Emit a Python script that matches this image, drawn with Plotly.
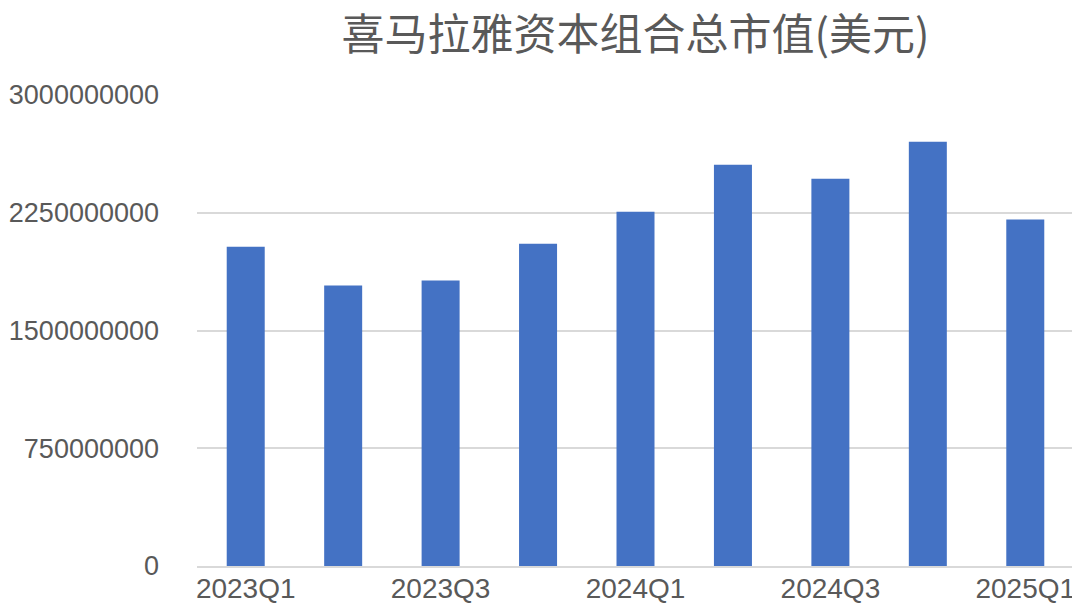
import plotly.graph_objects as go

quarters = ["2023Q1", "2023Q2", "2023Q3", "2023Q4", "2024Q1", "2024Q2", "2024Q3", "2024Q4", "2025Q1"]
market_value = [2034000000, 1786000000, 1818000000, 2053000000, 2256000000, 2555000000, 2466000000, 2703000000, 2207000000]
y_ticks = [0, 750000000, 1500000000, 2250000000, 3000000000]
title_text = "喜马拉雅资本组合总市值(美元)"

# page body has an 8px default margin, so the figure is sized to fit the 1080x609 window
fig = go.Figure(
    go.Bar(
        x=quarters,
        y=market_value,
        marker=dict(color="#4472C4", line=dict(width=0)),
        width=0.39,
    )
)

fig.update_layout(
    width=1072,
    height=601,
    margin=dict(l=189, r=6, t=87, b=43),
    paper_bgcolor="white",
    plot_bgcolor="white",
    showlegend=False,
    font=dict(family="Liberation Sans, Arial, Noto Sans CJK SC", color="#595959", size=28),
    title=dict(
        text=title_text,
        x=0.5,
        xref="paper",
        xanchor="center",
        y=1 - 27 / 601,
        yref="container",
        yanchor="middle",
        font=dict(family="Noto Sans CJK SC", size=43, color="#595959"),
    ),
)

fig.update_xaxes(
    type="category",
    tickvals=quarters[::2],
    ticktext=quarters[::2],
    showgrid=False,
    showline=True,
    linecolor="#d9d9d9",
    linewidth=2,
    ticks="",
    ticklabelstandoff=-4,
    automargin=False,
    tickfont=dict(size=28, color="#595959"),
)

fig.update_yaxes(
    range=[0, 3000000000],
    tickvals=y_ticks,
    ticktext=[str(v) for v in y_ticks],
    showgrid=True,
    gridcolor="#d9d9d9",
    gridwidth=2,
    zeroline=False,
    showline=False,
    ticks="",
    ticklabelstandoff=37,
    automargin=False,
    tickfont=dict(size=27, color="#595959"),
)

fig.write_html("out.html")
